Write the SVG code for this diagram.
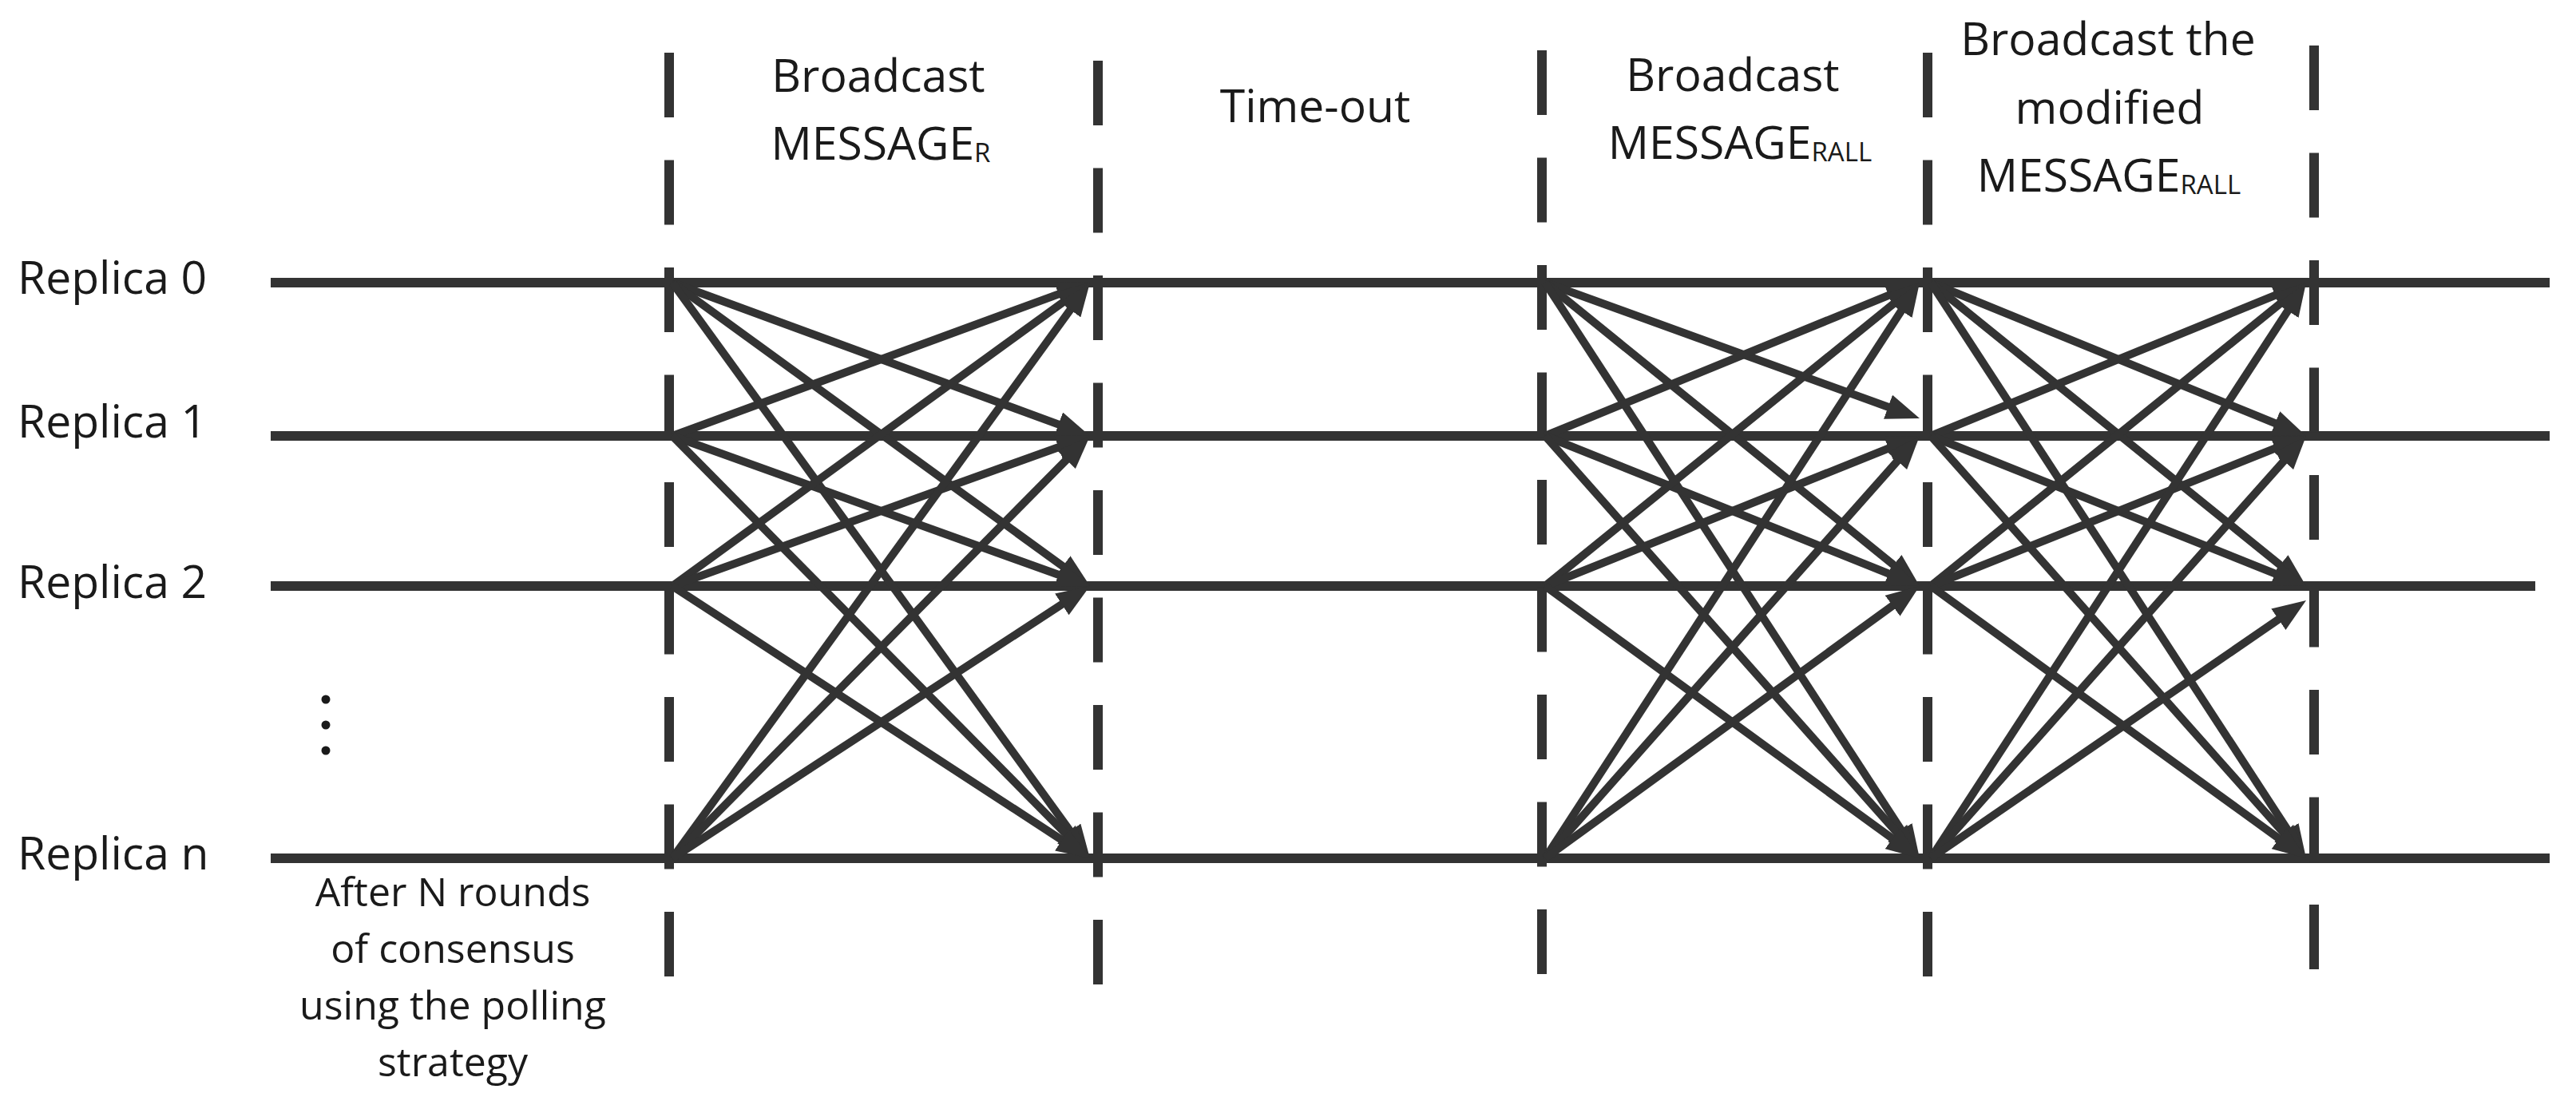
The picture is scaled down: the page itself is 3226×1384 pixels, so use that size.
<svg xmlns="http://www.w3.org/2000/svg" width="3226" height="1384" viewBox="0 0 3226 1384">
<style>
.lbl{font-family:"Open Sans","Liberation Sans",sans-serif;font-size:57px;fill:#1a1a1a}
.mid{text-anchor:middle}
.note{font-family:"Open Sans","Liberation Sans",sans-serif;font-size:50px;fill:#1a1a1a;text-anchor:middle}
.sub{font-size:33px}
.rep{stroke:#333;stroke-width:12;fill:none}
.dash{stroke:#333;stroke-width:12;fill:none;stroke-dasharray:81 53.5}
.arr{stroke:#333;stroke-width:10;fill:none;marker-end:url(#head)}
</style>
<defs>
<marker id="head" markerUnits="userSpaceOnUse" markerWidth="42" markerHeight="32" viewBox="0 0 42 32" refX="14" refY="16" orient="auto">
<path d="M0,0 L42,16 L0,32 z" fill="#333"/>
</marker>
</defs>
<rect width="3226" height="1384" fill="#fff"/>

<g id="replica-0">
<line class="rep" x1="339" y1="354" x2="3193" y2="354"/>
<text class="lbl" x="22" y="368">Replica 0</text>
</g>
<g id="replica-1">
<line class="rep" x1="339" y1="546" x2="3193" y2="546"/>
<text class="lbl" x="22" y="548">Replica 1</text>
</g>
<g id="replica-2">
<line class="rep" x1="339" y1="734" x2="3175" y2="734"/>
<text class="lbl" x="22" y="749">Replica 2</text>
</g>
<g id="ellipsis">
<circle cx="408" cy="876" r="5.5" fill="#1a1a1a"/>
<circle cx="408" cy="908" r="5.5" fill="#1a1a1a"/>
<circle cx="408" cy="940" r="5.5" fill="#1a1a1a"/>
</g>
<g id="replica-n">
<line class="rep" x1="339" y1="1075" x2="3193" y2="1075"/>
<text class="lbl" x="22" y="1089">Replica n</text>
</g>

<g id="note">
<text class="note" x="567" y="1135">After N rounds</text>
<text class="note" x="567" y="1206">of consensus</text>
<text class="note" x="567" y="1277">using the polling</text>
<text class="note" x="567" y="1348">strategy</text>
</g>

<g id="boundaries">
<line class="dash" x1="838" y1="66" x2="838" y2="1223"/>
<line class="dash" x1="1375" y1="76" x2="1375" y2="1233"/>
<line class="dash" x1="1931" y1="63" x2="1931" y2="1220"/>
<line class="dash" x1="2414" y1="66" x2="2414" y2="1223"/>
<line class="dash" x1="2898" y1="57" x2="2898" y2="1214"/>
</g>

<g id="phase-broadcast-r">
<text class="lbl mid" x="1100" y="115">Broadcast</text>
<text class="lbl mid" x="1103" y="200">MESSAGE<tspan class="sub" dy="3">R</tspan></text>
</g>
<g id="phase-timeout">
<text class="lbl mid" x="1647" y="153">Time-out</text>
</g>
<g id="phase-broadcast-rall">
<text class="lbl mid" x="2170" y="114">Broadcast</text>
<text class="lbl mid" x="2179" y="199">MESSAGE<tspan class="sub" dy="3">RALL</tspan></text>
</g>
<g id="phase-broadcast-modified">
<text class="lbl mid" x="2640" y="69">Broadcast the</text>
<text class="lbl mid" x="2642" y="155">modified</text>
<text class="lbl mid" x="2641" y="240">MESSAGE<tspan class="sub" dy="3">RALL</tspan></text>
</g>

<g id="connectors">
<!-- phase 1 -->
<line class="arr" x1="842" y1="354" x2="1338.7" y2="536.35"/>
<line class="arr" x1="842" y1="354" x2="1342.35" y2="717.54"/>
<line class="arr" x1="842" y1="354" x2="1348.56" y2="1052.33"/>
<line class="arr" x1="842" y1="546" x2="1338.7" y2="363.65"/>
<line class="arr" x1="842" y1="546" x2="1338.65" y2="724.53"/>
<line class="arr" x1="842" y1="546" x2="1345.31" y2="1055.09"/>
<line class="arr" x1="842" y1="734" x2="1342.35" y2="370.46"/>
<line class="arr" x1="842" y1="734" x2="1338.65" y2="555.47"/>
<line class="arr" x1="842" y1="734" x2="1341.54" y2="1059.71"/>
<line class="arr" x1="842" y1="1075" x2="1348.56" y2="376.67"/>
<line class="arr" x1="842" y1="1075" x2="1345.31" y2="565.91"/>
<line class="arr" x1="842" y1="1075" x2="1341.54" y2="749.29"/>
<!-- phase 3 -->
<line class="arr" x1="1935" y1="354" x2="2377.68" y2="514.46"/>
<line class="arr" x1="1935" y1="354" x2="2382.24" y2="716.37"/>
<line class="arr" x1="1935" y1="354" x2="2388.73" y2="1051.53"/>
<line class="arr" x1="1935" y1="546" x2="2378.09" y2="364.61"/>
<line class="arr" x1="1935" y1="546" x2="2378.01" y2="723.58"/>
<line class="arr" x1="1935" y1="546" x2="2385.43" y2="1054.05"/>
<line class="arr" x1="1935" y1="734" x2="2382.24" y2="371.63"/>
<line class="arr" x1="1935" y1="734" x2="2378.01" y2="556.42"/>
<line class="arr" x1="1935" y1="734" x2="2381.35" y2="1058.54"/>
<line class="arr" x1="1935" y1="1075" x2="2388.73" y2="377.47"/>
<line class="arr" x1="1935" y1="1075" x2="2385.43" y2="566.95"/>
<line class="arr" x1="1935" y1="1075" x2="2381.35" y2="750.46"/>
<!-- phase 4 -->
<line class="arr" x1="2418" y1="354" x2="2862.09" y2="535.39"/>
<line class="arr" x1="2418" y1="354" x2="2866.24" y2="716.37"/>
<line class="arr" x1="2418" y1="354" x2="2872.73" y2="1051.53"/>
<line class="arr" x1="2418" y1="546" x2="2862.09" y2="364.61"/>
<line class="arr" x1="2418" y1="546" x2="2862.01" y2="723.58"/>
<line class="arr" x1="2418" y1="546" x2="2869.43" y2="1054.05"/>
<line class="arr" x1="2418" y1="734" x2="2866.24" y2="371.63"/>
<line class="arr" x1="2418" y1="734" x2="2862.01" y2="556.42"/>
<line class="arr" x1="2418" y1="734" x2="2865.35" y2="1058.54"/>
<line class="arr" x1="2418" y1="1075" x2="2872.73" y2="377.47"/>
<line class="arr" x1="2418" y1="1075" x2="2869.43" y2="566.95"/>
<line class="arr" x1="2418" y1="1075" x2="2864.92" y2="767.86"/>
</g>
</svg>
